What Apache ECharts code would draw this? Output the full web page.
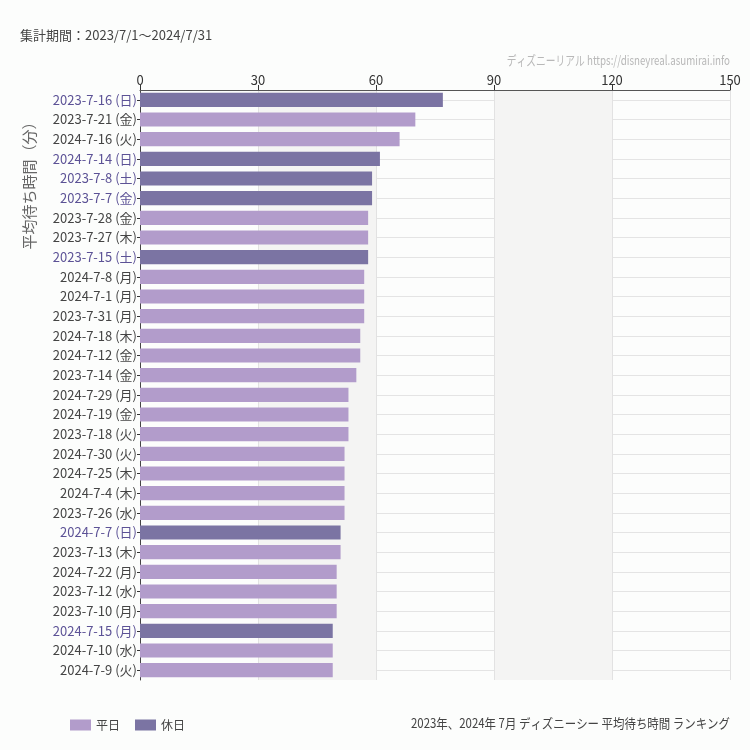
<!DOCTYPE html>
<html><head><meta charset="utf-8">
<script src="https://cdn.jsdelivr.net/npm/echarts@6/dist/echarts.min.js"></script>
<style>html,body{margin:0;padding:0;background:#fcfdfc}#c{width:750px;height:750px}</style>
</head><body><div id="c"></div>
<script>
const categories = ["2023-7-16 (日)","2023-7-21 (金)","2024-7-16 (火)","2024-7-14 (日)","2023-7-8 (土)","2023-7-7 (金)","2023-7-28 (金)","2023-7-27 (木)","2023-7-15 (土)","2024-7-8 (月)","2024-7-1 (月)","2023-7-31 (月)","2024-7-18 (木)","2024-7-12 (金)","2023-7-14 (金)","2024-7-29 (月)","2024-7-19 (金)","2023-7-18 (火)","2024-7-30 (火)","2024-7-25 (木)","2024-7-4 (木)","2023-7-26 (水)","2024-7-7 (日)","2023-7-13 (木)","2024-7-22 (月)","2023-7-12 (水)","2023-7-10 (月)","2024-7-15 (月)","2024-7-10 (水)","2024-7-9 (火)"];
const values = [77,70,66,61,59,59,58,58,58,57,57,57,56,56,55,53,53,53,52,52,52,52,51,51,50,50,50,49,49,49];
const holiday = [1,0,0,1,1,1,0,0,1,0,0,0,0,0,0,0,0,0,0,0,0,0,1,0,0,0,0,1,0,0];
const xMin = 0, xMax = 150, xInterval = 30;
const seriesNames = ["平日","休日"];
const periodText = "集計期間：2023/7/1～2024/7/31";
const creditText = "ディズニーリアル https://disneyreal.asumirai.info";
const chartTitle = "2023年、2024年 7月 ディズニーシー 平均待ち時間 ランキング";
const yName = "平均待ち時間（分）";

const weekdayColor = "#b29ccb";
const holidayColor = "#7b74a3";
const font = "'Noto Sans CJK JP', 'Noto Sans', sans-serif";

const weekdayData = values.map((v,i)=> holiday[i] ? null : v);
const holidayData = values.map((v,i)=> holiday[i] ? v : null);

const chart = echarts.init(document.getElementById('c'));
chart.setOption({
  backgroundColor: '#fcfdfc',
  animation: false,
  textStyle: {fontFamily: font},
  grid: {left: 140, right: 20, top: 90, bottom: 70, containLabel: false},
  xAxis: {
    type: 'value', position: 'top', min: xMin, max: xMax, interval: xInterval,
    axisLine: {show: true, lineStyle: {color: '#555', width: 1}},
    axisTick: {show: true, length: 5, lineStyle: {color: '#333'}},
    axisLabel: {color: '#333', fontSize: 13, fontFamily: font, margin: 3},
    splitLine: {show: true, lineStyle: {color: '#e2e2e2'}},
    splitArea: {show: true, areaStyle: {color: ['rgba(255,255,255,0)', '#f4f4f3']}}
  },
  yAxis: {
    type: 'category', data: categories, inverse: true,
    axisLine: {show: true, lineStyle: {color: '#444'}},
    axisTick: {show: true, alignWithLabel: true, length: 3, lineStyle: {color: '#333'}},
    axisLabel: {
      fontSize: 13, fontFamily: font, margin: 3,
      color: (val, idx) => holiday[idx] ? '#5c5296' : '#444'
    },
    splitLine: {show: true, alignWithLabel: true, lineStyle: {color: '#e4e4e4'}}
  },
  legend: {
    left: 65, bottom: 14, itemWidth: 21, itemHeight: 11, itemGap: 15,
    icon: 'rect',
    textStyle: {color: '#444', fontSize: 12, fontFamily: font},
    data: seriesNames
  },
  graphic: [
    {type: 'text', left: 20, top: 29, style: {text: periodText, fill: '#444', font: '13px ' + font}},
    {type: 'text', x: 730, y: 60, scaleX: 0.75,
     style: {text: creditText, fill: '#b8b8b8', font: '13px ' + font, align: 'right', verticalAlign: 'middle'}},
    {type: 'text', x: 730, y: 723, scaleX: 0.88,
     style: {text: chartTitle, fill: '#444', font: '13px ' + font, align: 'right', verticalAlign: 'middle'}},
    {type: 'text', x: 22, y: 182, rotation: Math.PI/2,
     style: {text: yName, fill: '#666', font: '15px ' + font, align: 'center', verticalAlign: 'top'}}
  ],
  series: [
    {name: seriesNames[0], type: 'bar', data: weekdayData, barWidth: '72%', barGap: '-100%',
     itemStyle: {color: weekdayColor}},
    {name: seriesNames[1], type: 'bar', data: holidayData, barWidth: '72%', barGap: '-100%',
     itemStyle: {color: holidayColor}}
  ]
});
</script>
</body></html>
